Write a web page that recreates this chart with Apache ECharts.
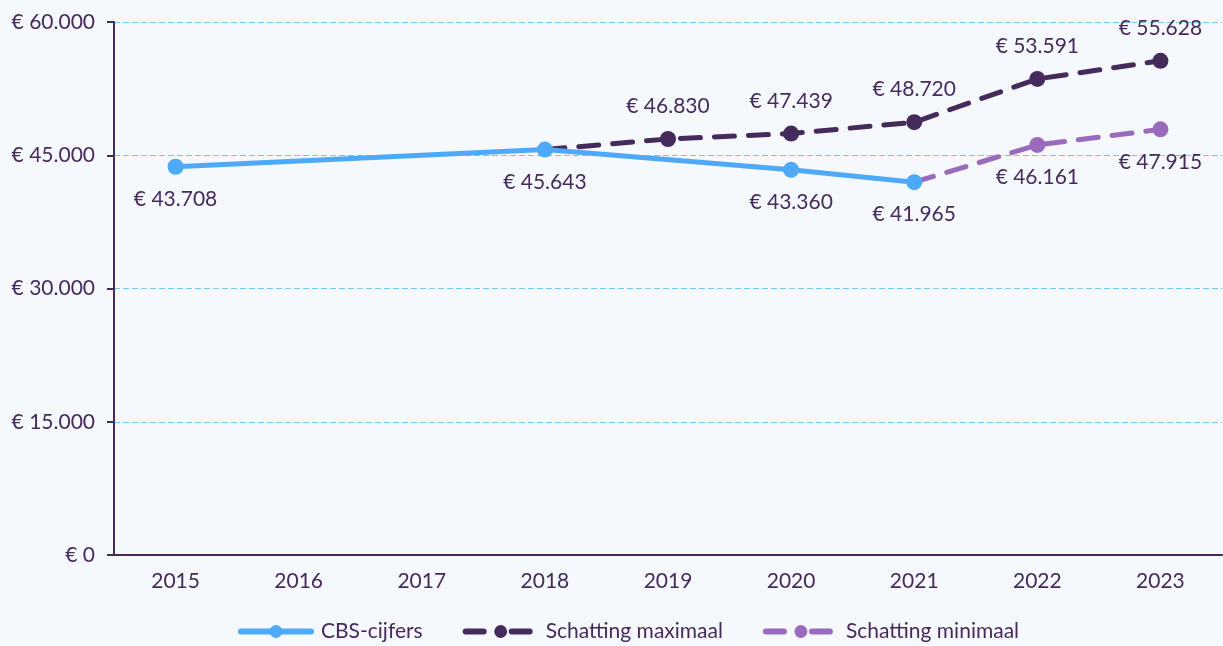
<!doctype html>
<html lang="nl">

<head>
    <meta charset="utf-8">
    <title>Inkomen</title>
    <script src="https://cdn.jsdelivr.net/npm/echarts@6/dist/echarts.min.js"></script>
    <style>
        html, body { margin: 0; padding: 0; background: #f5f8fd; }
        #chart { width: 1223px; height: 646px; }
    </style>
</head>

<body>
    <div id="chart"></div>
    <script type="text/javascript">
        var years = ['2015', '2016', '2017', '2018', '2019', '2020', '2021', '2022', '2023'];
        var cbsValues = [43708, null, null, 45643, null, 43360, 41965, null, null];
        var maxValues = [null, null, null, 45643, 46830, 47439, 48720, 53591, 55628];
        var minValues = [null, null, null, null, null, null, 41965, 46161, 47915];
        var yTicks = [0, 15000, 30000, 45000, 60000];

        var purple = '#452a5c';
        var font = 'Lato';

        function euro(v) {
            return '€ ' + String(v).replace(/\B(?=(\d{3})+(?!\d))/g, '.');
        }

        // first point of a schatting line is the end of the CBS line: no dot, no label
        function estimate(values) {
            var first = true;
            return values.map(function (v) {
                if (v === null) return null;
                if (first) {
                    first = false;
                    return { value: v, symbol: 'none', label: { show: false } };
                }
                return v;
            });
        }

        var valueLabel = {
            show: true, distance: 14,
            fontSize: 21, fontFamily: font, color: purple,
            formatter: function (p) { return euro(p.value); }
        };

        var chart = echarts.init(document.getElementById('chart'));
        var option = {
            backgroundColor: '#f5f8fd',
            textStyle: { fontFamily: font },
            grid: { left: 114, right: 1, top: 22, bottom: 91 },
            legend: {
                bottom: -1,
                left: 233,
                itemWidth: 70,
                itemHeight: 16,
                itemGap: 40,
                textStyle: { fontFamily: font, fontSize: 21, color: purple, padding: [0, 0, 0, 5] },
                lineStyle: { width: 6, cap: 'round' },
                data: [
                    { name: 'CBS-cijfers', lineStyle: { type: 'solid' } },
                    { name: 'Schatting maximaal', lineStyle: { type: [18, 28] } },
                    { name: 'Schatting minimaal', lineStyle: { type: [18, 28] } }
                ]
            },
            xAxis: {
                type: 'category',
                data: years,
                boundaryGap: true,
                axisLine: { lineStyle: { color: purple, width: 2 } },
                axisTick: { alignWithLabel: true, length: 6, lineStyle: { color: purple, width: 2 } },
                axisLabel: { color: purple, fontSize: 21, fontFamily: font, margin: 16 },
                splitLine: { show: false }
            },
            yAxis: {
                type: 'value',
                min: yTicks[0],
                max: yTicks[yTicks.length - 1],
                interval: yTicks[1] - yTicks[0],
                axisLine: { show: true, lineStyle: { color: purple, width: 2 } },
                axisTick: { show: true, length: 7, lineStyle: { color: purple, width: 2 } },
                axisLabel: { color: purple, fontSize: 21, fontFamily: font, margin: 19, formatter: euro },
                splitLine: { lineStyle: { color: '#72c8fb', type: [6, 3], width: 1 } }
            },
            series: [{
                name: 'Schatting maximaal',
                type: 'line',
                data: estimate(maxValues),
                z: 2,
                symbol: 'circle',
                symbolSize: 16,
                color: purple,
                lineStyle: { width: 5, type: [20, 14], cap: 'round' },
                label: Object.assign({ position: 'top' }, valueLabel)
            }, {
                name: 'Schatting minimaal',
                type: 'line',
                data: estimate(minValues),
                z: 2,
                symbol: 'circle',
                symbolSize: 16,
                color: '#9a6abd',
                lineStyle: { width: 5, type: [20, 14], cap: 'round' },
                label: Object.assign({ position: 'bottom' }, valueLabel)
            }, {
                name: 'CBS-cijfers',
                type: 'line',
                data: cbsValues,
                connectNulls: true,
                z: 3,
                symbol: 'circle',
                symbolSize: 16,
                color: '#4eaaf8',
                lineStyle: { width: 5 },
                label: Object.assign({ position: 'bottom' }, valueLabel)
            }]
        };
        chart.setOption(option);
    </script>
</body>

</html>
